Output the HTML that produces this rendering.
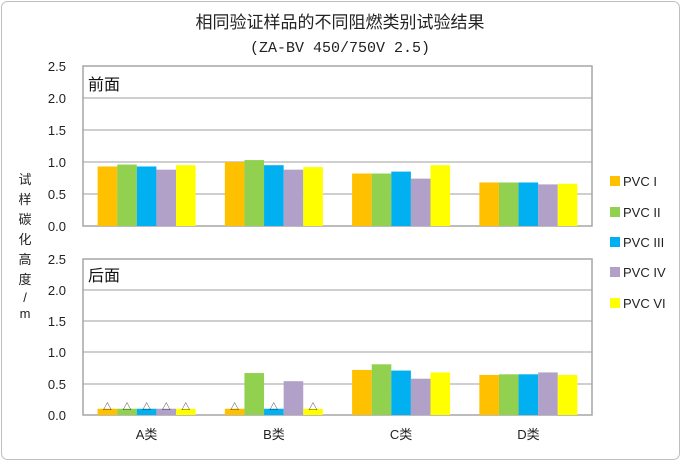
<!DOCTYPE html>
<html><head><meta charset="utf-8"><style>
body{margin:0;background:#fff}
svg{display:block;font-family:"Liberation Sans","Noto Sans CJK SC",sans-serif}
</style></head><body>
<svg width="681" height="461" viewBox="0 0 681 461">
<rect x="1.5" y="1.5" width="678" height="458" rx="6" fill="#fff" stroke="#bfbfbf"/>
<text x="340" y="28" text-anchor="middle" font-size="17" fill="#222">相同验证样品的不同阻燃类别试验结果</text>
<text x="340" y="52" text-anchor="middle" font-size="15" fill="#222" font-family="Liberation Mono,monospace">(ZA-BV 450/750V 2.5)</text>
<g fill="#222" font-size="13" text-anchor="middle">
<text x="25" y="184">试</text><text x="25" y="204">样</text><text x="25" y="224">碳</text><text x="25" y="244">化</text><text x="25" y="264">高</text><text x="25" y="284">度</text><text x="25" y="302">/</text><text x="25" y="318">m</text>
</g>
<g stroke="#bfbfbf" stroke-width="1.5">
<line x1="83" y1="98" x2="592" y2="98"/><line x1="83" y1="130" x2="592" y2="130"/><line x1="83" y1="162" x2="592" y2="162"/><line x1="83" y1="194" x2="592" y2="194"/>
<line x1="83" y1="290" x2="592" y2="290"/><line x1="83" y1="321" x2="592" y2="321"/><line x1="83" y1="352" x2="592" y2="352"/><line x1="83" y1="384" x2="592" y2="384"/>
</g>
<rect x="83" y="66" width="509" height="160" fill="none" stroke="#a6a6a6" stroke-width="1.5"/>
<rect x="83" y="259" width="509" height="156" fill="none" stroke="#a6a6a6" stroke-width="1.5"/>
<g font-size="13" fill="#222" text-anchor="end">
<text x="66" y="71">2.5</text><text x="66" y="103">2.0</text><text x="66" y="135">1.5</text><text x="66" y="167">1.0</text><text x="66" y="199">0.5</text><text x="66" y="231">0.0</text>
<text x="66" y="264">2.5</text><text x="66" y="295">2.0</text><text x="66" y="326">1.5</text><text x="66" y="357">1.0</text><text x="66" y="389">0.5</text><text x="66" y="420">0.0</text>
</g>
<text x="88" y="90" font-size="16" fill="#111">前面</text>
<text x="88" y="281" font-size="16" fill="#111">后面</text>
<g transform="translate(0,226) scale(1,-64)">
<rect x="97.6" width="19.6" height=".93" fill="#FFC000"/><rect x="117.2" width="19.6" height=".96" fill="#92D050"/><rect x="136.8" width="19.6" height=".93" fill="#00B0F0"/><rect x="156.4" width="19.6" height=".88" fill="#B1A0C7"/><rect x="176" width="19.6" height=".95" fill="#FFFF00"/>
<rect x="224.85" width="19.6" height="1.0" fill="#FFC000"/><rect x="244.45" width="19.6" height="1.03" fill="#92D050"/><rect x="264.05" width="19.6" height=".95" fill="#00B0F0"/><rect x="283.65" width="19.6" height=".88" fill="#B1A0C7"/><rect x="303.25" width="19.6" height=".92" fill="#FFFF00"/>
<rect x="352.1" width="19.6" height=".82" fill="#FFC000"/><rect x="371.7" width="19.6" height=".82" fill="#92D050"/><rect x="391.3" width="19.6" height=".85" fill="#00B0F0"/><rect x="410.9" width="19.6" height=".74" fill="#B1A0C7"/><rect x="430.5" width="19.6" height=".95" fill="#FFFF00"/>
<rect x="479.35" width="19.6" height=".68" fill="#FFC000"/><rect x="498.95" width="19.6" height=".68" fill="#92D050"/><rect x="518.55" width="19.6" height=".68" fill="#00B0F0"/><rect x="538.15" width="19.6" height=".65" fill="#B1A0C7"/><rect x="557.75" width="19.6" height=".66" fill="#FFFF00"/>
</g>
<g transform="translate(0,415) scale(1,-62.6)">
<rect x="97.6" width="19.6" height=".1" fill="#FFC000"/><rect x="117.2" width="19.6" height=".1" fill="#92D050"/><rect x="136.8" width="19.6" height=".1" fill="#00B0F0"/><rect x="156.4" width="19.6" height=".1" fill="#B1A0C7"/><rect x="176" width="19.6" height=".1" fill="#FFFF00"/>
<rect x="224.85" width="19.6" height=".1" fill="#FFC000"/><rect x="244.45" width="19.6" height=".67" fill="#92D050"/><rect x="264.05" width="19.6" height=".1" fill="#00B0F0"/><rect x="283.65" width="19.6" height=".54" fill="#B1A0C7"/><rect x="303.25" width="19.6" height=".1" fill="#FFFF00"/>
<rect x="352.1" width="19.6" height=".72" fill="#FFC000"/><rect x="371.7" width="19.6" height=".81" fill="#92D050"/><rect x="391.3" width="19.6" height=".71" fill="#00B0F0"/><rect x="410.9" width="19.6" height=".58" fill="#B1A0C7"/><rect x="430.5" width="19.6" height=".68" fill="#FFFF00"/>
<rect x="479.35" width="19.6" height=".64" fill="#FFC000"/><rect x="498.95" width="19.6" height=".65" fill="#92D050"/><rect x="518.55" width="19.6" height=".65" fill="#00B0F0"/><rect x="538.15" width="19.6" height=".68" fill="#B1A0C7"/><rect x="557.75" width="19.6" height=".64" fill="#FFFF00"/>
</g>
<g font-size="9" fill="#222" text-anchor="middle">
<text x="107.4" y="410">△</text><text x="127" y="410">△</text><text x="146.6" y="410">△</text><text x="166.2" y="410">△</text><text x="185.8" y="410">△</text>
<text x="234.6" y="410">△</text><text x="273.8" y="410">△</text><text x="313" y="410">△</text>
</g>
<g font-size="13" fill="#222" text-anchor="middle">
<text x="146.6" y="439">A类</text><text x="273.9" y="439">B类</text><text x="401.1" y="439">C类</text><text x="528.4" y="439">D类</text>
</g>
<g font-size="13" fill="#222">
<rect x="610" y="176" width="10" height="10" fill="#FFC000"/><text x="623" y="186">PVC I</text>
<rect x="610" y="207" width="10" height="10" fill="#92D050"/><text x="623" y="217">PVC II</text>
<rect x="610" y="237" width="10" height="10" fill="#00B0F0"/><text x="623" y="247">PVC III</text>
<rect x="610" y="267" width="10" height="10" fill="#B1A0C7"/><text x="623" y="277">PVC IV</text>
<rect x="610" y="298" width="10" height="10" fill="#FFFF00"/><text x="623" y="308">PVC VI</text>
</g>
</svg>
</body></html>
